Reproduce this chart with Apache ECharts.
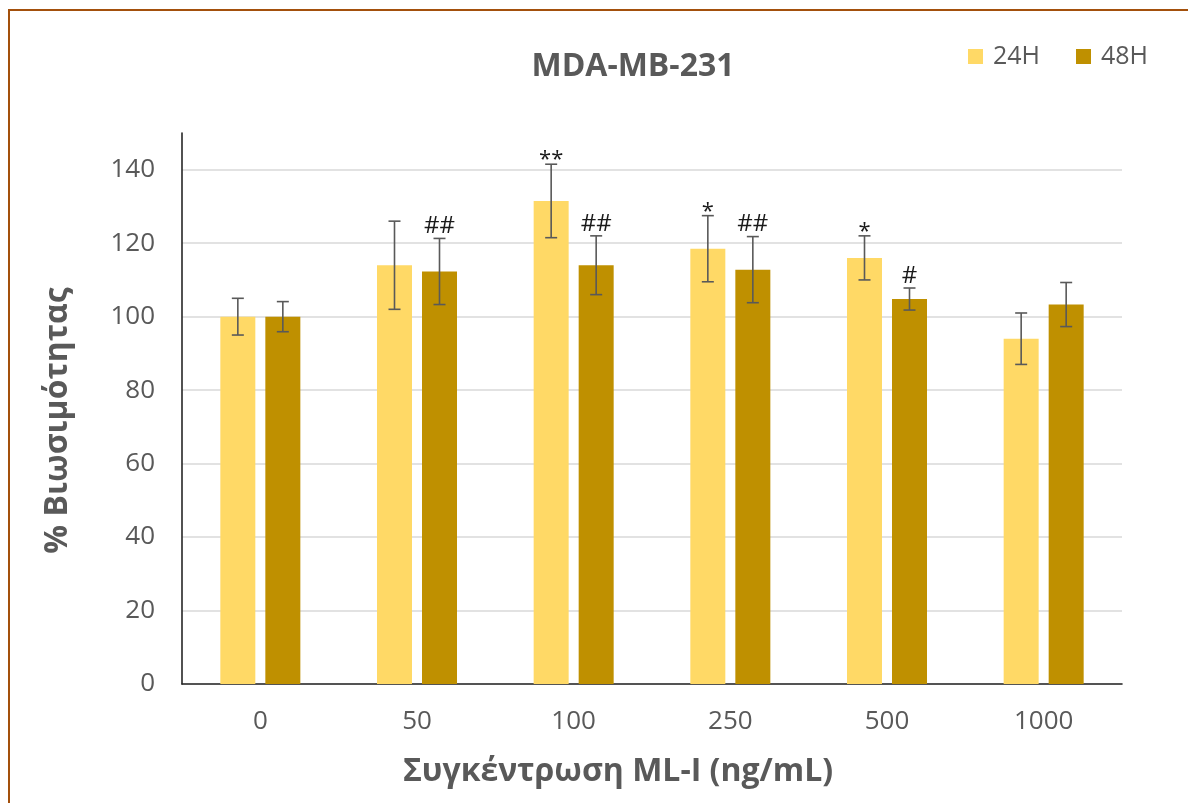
<!DOCTYPE html>
<html>
<head>
<meta charset="utf-8">
<script src="https://cdn.jsdelivr.net/npm/echarts@6/dist/echarts.min.js"></script>
<style>
  html, body { margin: 0; padding: 0; background: #fff; }
  #frame { position: absolute; left: 0; top: 0; width: 1188px; height: 803px; overflow: hidden; }
  #edge { position: absolute; left: 8px; top: 9px; width: 1200px; height: 820px;
          border-left: 2px solid #A3500C; border-top: 2px solid #A3500C; }
  #chart { position: absolute; left: 0; top: 0; width: 1188px; height: 803px; }
</style>
</head>
<body>
<div id="frame">
  <div id="chart"></div>
  <div id="edge"></div>
</div>
<script>
// Concentrations of ML-I (ng/mL)
const categories = ['0', '50', '100', '250', '500', '1000'];

// Mean viability (%) and error (±) after 24 h
const viability24 = [100, 114, 131.5, 118.5, 116, 94];
const error24 = [5, 12, 10, 9, 6, 7];
const signif24 = ['', '', '**', '*', '*', ''];

// Mean viability (%) and error (±) after 48 h
const viability48 = [100, 112.3, 114, 112.8, 104.8, 103.3];
const error48 = [4.1, 9, 8, 9, 3, 6];
const signif48 = ['', '##', '##', '##', '#', ''];

const seriesNames = ['24H', '48H'];
const yTicks = { min: 0, max: 150, step: 20 };

const BAR_W = 35;
const BAR_GAP = 10;
const COLORS = ['#FFD966', '#BF9000'];
const TEXT = '#595959';
const FONT = '"Open Sans", "DejaVu Sans", sans-serif';

// Error bars with significance marks, drawn through the category/value scales
function errorSeries(name, means, errs, marks, side) {
  const data = means.map((m, i) => [i, m, errs[i], marks[i]]);
  return {
    type: 'custom',
    name: name + ' err',
    z: 5,
    silent: true,
    data: data,
    renderItem: function (params, api) {
      const idx = api.value(0);
      const mean = api.value(1);
      const err = api.value(2);
      const mark = data[params.dataIndex][3];
      const shift = side * (BAR_W + BAR_GAP) / 2;
      const top = api.coord([idx, mean + err]);
      const bot = api.coord([idx, mean - err]);
      const x = top[0] + shift;
      const cap = 6;
      const st = { stroke: '#595959', lineWidth: 1.6 };
      const children = [
        { type: 'line', shape: { x1: x, y1: top[1], x2: x, y2: bot[1] }, style: st },
        { type: 'line', shape: { x1: x - cap, y1: top[1], x2: x + cap, y2: top[1] }, style: st },
        { type: 'line', shape: { x1: x - cap, y1: bot[1], x2: x + cap, y2: bot[1] }, style: st }
      ];
      if (mark) {
        const isStar = mark.indexOf('*') >= 0;
        children.push({
          type: 'text',
          style: {
            text: mark,
            x: x,
            y: top[1] + (isStar ? 7 : 0),
            align: 'center',
            verticalAlign: 'bottom',
            fill: '#1a1a1a',
            font: (isStar ? '22px ' : '24px ') + FONT
          }
        });
      }
      return { type: 'group', children: children };
    }
  };
}

const chart = echarts.init(document.getElementById('chart'), null, { renderer: 'canvas' });

chart.setOption({
  animation: false,
  backgroundColor: '#ffffff',
  title: {
    text: 'MDA-MB-231',
    left: 628,
    top: 46,
    textAlign: 'center',
    textStyle: { color: TEXT, fontSize: 32, fontWeight: 'bold', fontFamily: FONT }
  },
  legend: {
    data: seriesNames,
    left: 968,
    top: 44,
    padding: 0,
    itemWidth: 15,
    itemHeight: 15,
    itemGap: 36,
    icon: 'rect',
    textStyle: { color: TEXT, fontSize: 25, fontFamily: FONT, padding: [0, 0, 0, 5] }
  },
  grid: { left: 182, right: 66, top: 133, bottom: 119, containLabel: false },
  xAxis: {
    type: 'category',
    data: categories,
    name: 'Συγκέντρωση ML-I (ng/mL)',
    nameLocation: 'middle',
    nameGap: 72,
    nameTextStyle: { color: TEXT, fontSize: 32, fontWeight: 'bold', fontFamily: FONT, padding: [0, 68, 0, 0] },
    axisLine: { lineStyle: { color: '#262626', width: 1.6 } },
    axisTick: { show: false },
    axisLabel: { color: TEXT, fontSize: 26, fontFamily: FONT, margin: 25 },
    splitLine: { show: false }
  },
  yAxis: {
    type: 'value',
    min: yTicks.min,
    max: yTicks.max,
    interval: yTicks.step,
    name: '% Βιωσιμότητας',
    nameLocation: 'middle',
    nameGap: 108,
    nameTextStyle: { color: TEXT, fontSize: 32, fontWeight: 'bold', fontFamily: FONT, padding: [0, 24, 0, 0] },
    axisLine: { show: true, lineStyle: { color: '#262626', width: 1.6 } },
    axisTick: { show: false },
    axisLabel: { color: TEXT, fontSize: 26, fontFamily: FONT, margin: 27, showMaxLabel: false },
    splitLine: { show: true, showMaxLine: false, lineStyle: { color: '#D9D9D9', width: 1.5 } }
  },
  series: [
    {
      name: seriesNames[0],
      type: 'bar',
      data: viability24,
      barWidth: BAR_W,
      barGap: (BAR_GAP / BAR_W * 100).toFixed(1) + '%',
      itemStyle: { color: COLORS[0] }
    },
    {
      name: seriesNames[1],
      type: 'bar',
      data: viability48,
      barWidth: BAR_W,
      itemStyle: { color: COLORS[1] }
    },
    errorSeries(seriesNames[0], viability24, error24, signif24, -1),
    errorSeries(seriesNames[1], viability48, error48, signif48, 1)
  ]
});
</script>
</body>
</html>
